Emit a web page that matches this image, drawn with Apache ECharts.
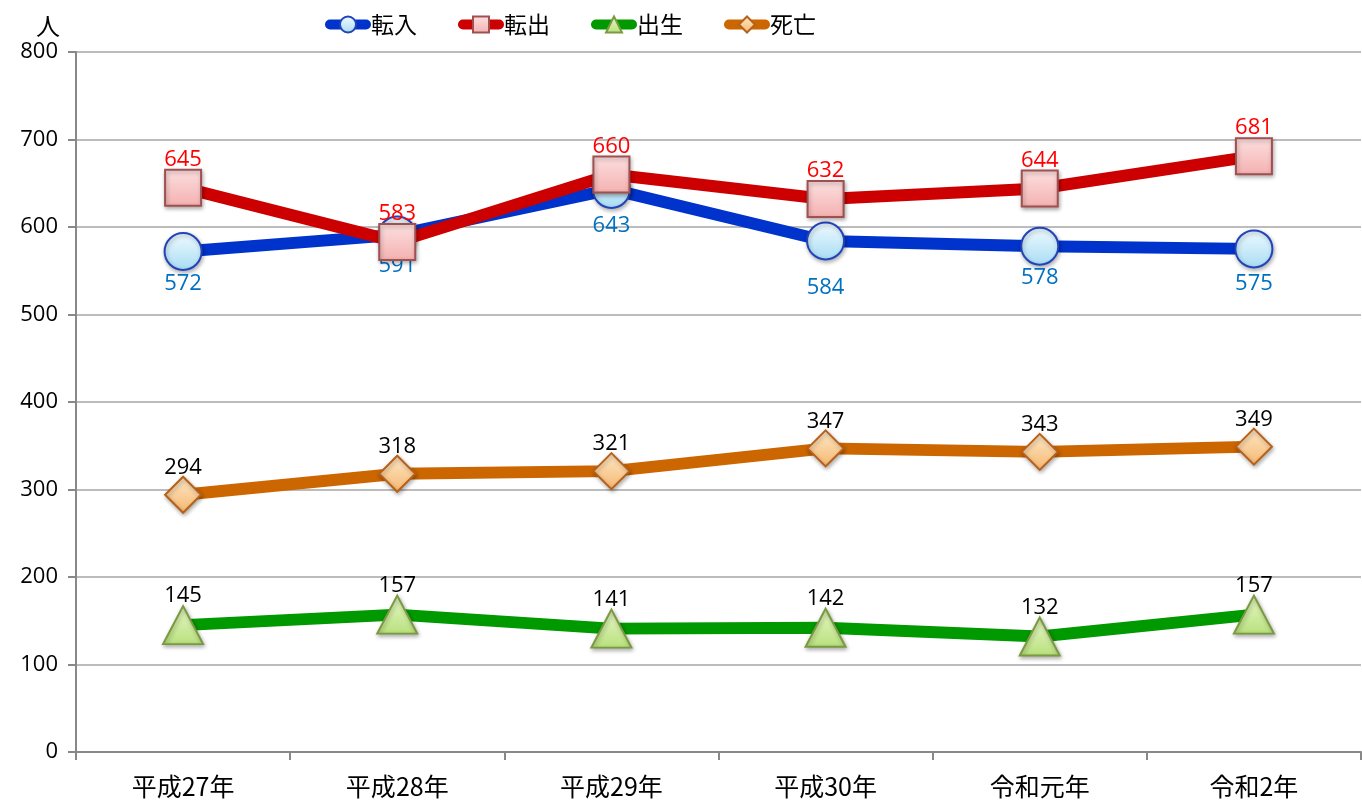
<!DOCTYPE html>
<html>
<head>
<meta charset="utf-8">
<script src="https://cdn.jsdelivr.net/npm/echarts@6/dist/echarts.min.js"></script>
<style>
  html, body { margin: 0; padding: 0; background: #fff; }
  #chart { width: 1362px; height: 802px; }
</style>
</head>
<body>
<div id="chart"></div>
<script>
const years = ['平成27年', '平成28年', '平成29年', '平成30年', '令和元年', '令和2年']
const tennyu = [572, 591, 643, 584, 578, 575]
const tenshutsu = [645, 583, 660, 632, 644, 681]
const shussei = [145, 157, 141, 142, 132, 157]
const shibou = [294, 318, 321, 347, 343, 349]
const yTicks = { min: 0, max: 800, interval: 100 }

// extra gap below the 転入 labels, as placed in the original
const tennyuLabelGap = [2, 0, 6, 16, 1, 4]

const numFont = "'Open Sans', 'Noto Sans', sans-serif"
const jpFont = "'Noto Sans CJK JP', sans-serif"

function grad (c1, c2) {
  return new echarts.graphic.LinearGradient(0, 0, 0, 1, [
    { offset: 0, color: c1 },
    { offset: 1, color: c2 }
  ])
}

function makeSeries (name, data, opt) {
  return {
    name: name,
    type: 'line',
    data: opt.gaps
      ? data.map((v, i) => ({ value: v, label: { distance: opt.dist + opt.gaps[i] } }))
      : data,
    symbol: opt.symbol,
    symbolSize: opt.size,
    z: opt.z,
    lineStyle: { color: opt.line, width: 12 },
    itemStyle: {
      color: opt.fill,
      borderColor: opt.border,
      borderWidth: 2,
      shadowBlur: 4,
      shadowOffsetX: 1,
      shadowOffsetY: 2,
      shadowColor: 'rgba(0,0,0,0.3)'
    },
    label: {
      show: true,
      position: opt.pos,
      distance: opt.dist,
      color: opt.labelColor,
      fontSize: 22,
      fontFamily: numFont
    }
  }
}

const chart = echarts.init(document.getElementById('chart'), null, { renderer: 'canvas' })
chart.setOption({
  animation: false,
  legend: {
    top: 13,
    left: 325,
    padding: 0,
    itemWidth: 36,
    itemHeight: 20,
    itemGap: 41,
    lineStyle: { width: 10, cap: 'round' },
    textStyle: { fontSize: 23, fontFamily: jpFont, color: '#000' },
    data: ['転入', '転出', '出生', '死亡']
  },
  grid: { left: 76, right: 1, top: 52, bottom: 50 },
  xAxis: {
    type: 'category',
    data: years,
    boundaryGap: true,
    axisLine: { lineStyle: { color: '#888', width: 2 } },
    axisTick: { show: true, length: 8, lineStyle: { color: '#888', width: 2 } },
    axisLabel: { fontSize: 25, fontFamily: jpFont, color: '#000', margin: 22 }
  },
  yAxis: {
    type: 'value',
    min: yTicks.min,
    max: yTicks.max,
    interval: yTicks.interval,
    name: '人',
    nameLocation: 'end',
    nameGap: 14,
    nameTextStyle: { fontSize: 24, fontFamily: jpFont, color: '#000', align: 'right', padding: [0, 16, 0, 0] },
    axisLine: { show: true, lineStyle: { color: '#888', width: 2 } },
    axisTick: { show: true, length: 8, lineStyle: { color: '#888', width: 2 } },
    axisLabel: { fontSize: 22, fontFamily: numFont, color: '#000', margin: 18 },
    splitLine: { lineStyle: { color: '#a6a6a6', width: 1.5 } }
  },
  series: [
    makeSeries('転入', tennyu, {
      symbol: 'circle', size: 37, z: 3, line: '#0033cc',
      fill: grad('#f0fbff', '#a8dcf4'), border: '#2244bb',
      pos: 'bottom', dist: 0, labelColor: '#0070c0', gaps: tennyuLabelGap
    }),
    makeSeries('転出', tenshutsu, {
      symbol: 'rect', size: 36, z: 4, line: '#cc0000',
      fill: grad('#fde0e0', '#f4b0b0'), border: '#a05050',
      pos: 'top', dist: -2, labelColor: '#ff0000'
    }),
    makeSeries('出生', shussei, {
      symbol: 'triangle', size: [40, 38], z: 3, line: '#009900',
      fill: grad('#e8f8c8', '#b8e07c'), border: '#7a9a40',
      pos: 'top', dist: -2, labelColor: '#000'
    }),
    makeSeries('死亡', shibou, {
      symbol: 'diamond', size: 36, z: 3, line: '#cc6600',
      fill: grad('#fde8c8', '#f6b870'), border: '#b86018',
      pos: 'top', dist: -3, labelColor: '#000'
    })
  ]
})
</script>
</body>
</html>
